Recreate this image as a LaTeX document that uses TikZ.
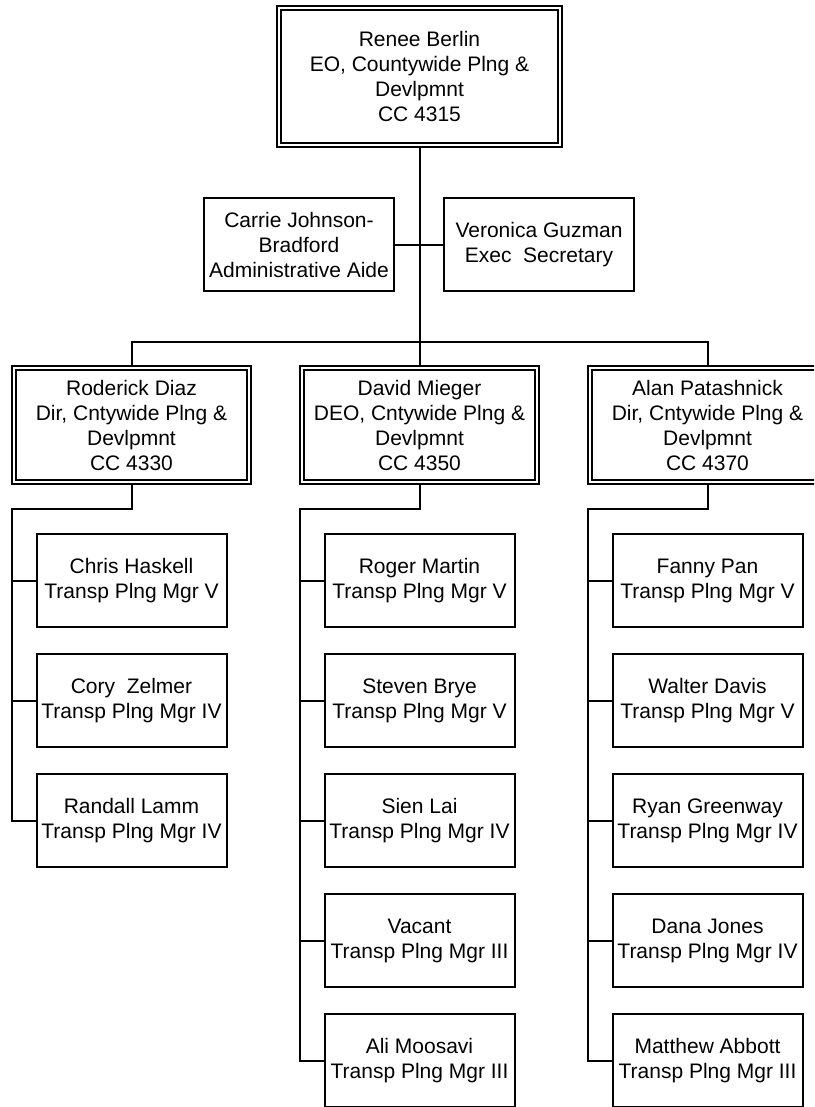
\documentclass[tikz,border=0pt]{standalone}
\usepackage{fontspec}
\setmainfont{Liberation Sans}
\usetikzlibrary{positioning}

\tikzset{
  headbox/.style={draw, line width=2.2pt, fill=white, minimum width=238.8pt, minimum height=117.8pt,
    path picture={\draw[line width=1.3pt] ([shift={(4pt,-4pt)}]path picture bounding box.north west) rectangle ([shift={(-4pt,4pt)}]path picture bounding box.south east);}},
  staffbox/.style={draw, line width=2pt, fill=white, minimum width=190pt, minimum height=93pt},
  link/.style={line width=2pt}
}

\begin{document}
\begin{tikzpicture}[x=1pt,y=-1pt, every node/.style={font=\fontsize{21}{25}\selectfont, align=center}]
  \useasboundingbox (0,0) rectangle (814,1107);
  \clip (0,0) rectangle (814,1107);

  % top of the chart
  \node[headbox, minimum width=284.8pt, minimum height=140.8pt] (boss) at (419.5,76.5) {Renee Berlin\\EO, Countywide Plng \&\\Devlpmnt\\CC 4315};
  \node[staffbox] (aide) at (299,244.5) {Carrie Johnson-\\Bradford\\Administrative Aide};
  \node[staffbox] (exec) at (539,244.5) {Veronica Guzman\\Exec~~Secretary};

  \node[headbox] (dirA) at (131.5,425) {Roderick Diaz\\Dir, Cntywide Plng \&\\Devlpmnt\\CC 4330};
  \node[headbox] (dirB) at (419.5,425) {David Mieger\\DEO, Cntywide Plng \&\\Devlpmnt\\CC 4350};
  \node[headbox] (dirC) at (707.5,425) {Alan Patashnick\\Dir, Cntywide Plng \&\\Devlpmnt\\CC 4370};

  \coordinate (bus) at (419.5,342);
  \draw[link] (boss.south) -- (dirB.north);
  \draw[link] (aide.east) -- (exec.west);
  \draw[link] (dirA.north) |- (bus) -| (dirC.north);

  % Diaz group
  \node[staffbox] (haskell) at (131.5,580.5) {Chris Haskell\\Transp Plng Mgr V};
  \node[staffbox] (zelmer) at (131.5,700.5) {Cory~~Zelmer\\Transp Plng Mgr IV};
  \node[staffbox] (lamm) at (131.5,820.5) {Randall Lamm\\Transp Plng Mgr IV};

  \coordinate (spA) at (12,509);
  \draw[link] (dirA.south) |- (spA) |- (lamm.west);
  \draw[link] (spA) |- (haskell.west);
  \draw[link] (spA) |- (zelmer.west);

  % Mieger group
  \node[staffbox] (martin) at (419.5,580.5) {Roger Martin\\Transp Plng Mgr V};
  \node[staffbox] (brye) at (419.5,700.5) {Steven Brye\\Transp Plng Mgr V};
  \node[staffbox] (lai) at (419.5,820.5) {Sien Lai\\Transp Plng Mgr IV};
  \node[staffbox] (vacant) at (419.5,940.5) {Vacant\\Transp Plng Mgr III};
  \node[staffbox] (moosavi) at (419.5,1060.5) {Ali Moosavi\\Transp Plng Mgr III};

  \coordinate (spB) at (300,509);
  \draw[link] (dirB.south) |- (spB) |- (moosavi.west);
  \draw[link] (spB) |- (martin.west);
  \draw[link] (spB) |- (brye.west);
  \draw[link] (spB) |- (lai.west);
  \draw[link] (spB) |- (vacant.west);

  % Patashnick group
  \node[staffbox] (pan) at (707.5,580.5) {Fanny Pan\\Transp Plng Mgr V};
  \node[staffbox] (davis) at (707.5,700.5) {Walter Davis\\Transp Plng Mgr V};
  \node[staffbox] (greenway) at (707.5,820.5) {Ryan Greenway\\Transp Plng Mgr IV};
  \node[staffbox] (jones) at (707.5,940.5) {Dana Jones\\Transp Plng Mgr IV};
  \node[staffbox] (abbott) at (707.5,1060.5) {Matthew Abbott\\Transp Plng Mgr III};

  \coordinate (spC) at (588,509);
  \draw[link] (dirC.south) |- (spC) |- (abbott.west);
  \draw[link] (spC) |- (pan.west);
  \draw[link] (spC) |- (davis.west);
  \draw[link] (spC) |- (greenway.west);
  \draw[link] (spC) |- (jones.west);
\end{tikzpicture}
\end{document}
